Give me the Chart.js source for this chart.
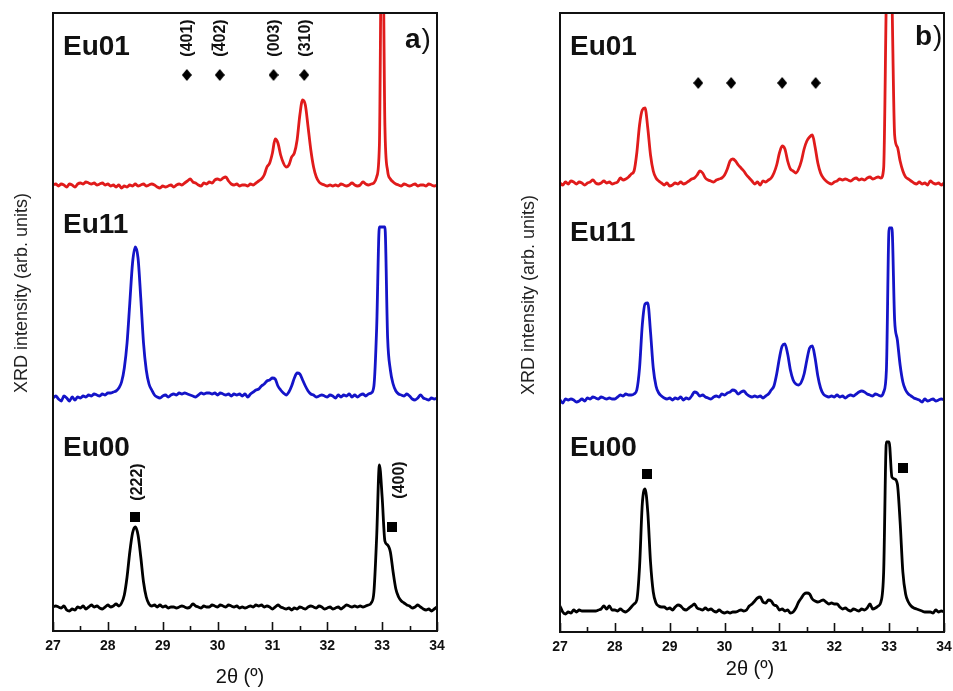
<!DOCTYPE html>
<html>
<head>
<meta charset="utf-8">
<script src="https://cdn.jsdelivr.net/npm/chart.js@4.4.1/dist/chart.umd.min.js"></script>
<style>
    body { margin: 0; background: #fff; }
    #wrap { position: relative; width: 953px; height: 691px; }
    #wrap canvas { position: absolute; top: 0; }
</style>
</head>
<body>
<div id="wrap">
    <canvas id="chartA" width="480" height="691" style="left:0"></canvas>
    <canvas id="chartB" width="473" height="691" style="left:480px"></canvas>
</div>
<script>
// scan grid, 2θ in degrees (step 0.05)
const twoTheta = [
    27.00, 27.05, 27.10, 27.15, 27.20, 27.25, 27.30, 27.35, 27.40, 27.45, 27.50, 27.55, 27.60, 27.65, 27.70, 27.75, 27.80, 27.85, 27.90, 27.95,
    28.00, 28.05, 28.10, 28.15, 28.20, 28.25, 28.30, 28.35, 28.40, 28.45, 28.50, 28.55, 28.60, 28.65, 28.70, 28.75, 28.80, 28.85, 28.90, 28.95,
    29.00, 29.05, 29.10, 29.15, 29.20, 29.25, 29.30, 29.35, 29.40, 29.45, 29.50, 29.55, 29.60, 29.65, 29.70, 29.75, 29.80, 29.85, 29.90, 29.95,
    30.00, 30.05, 30.10, 30.15, 30.20, 30.25, 30.30, 30.35, 30.40, 30.45, 30.50, 30.55, 30.60, 30.65, 30.70, 30.75, 30.80, 30.85, 30.90, 30.95,
    31.00, 31.05, 31.10, 31.15, 31.20, 31.25, 31.30, 31.35, 31.40, 31.45, 31.50, 31.55, 31.60, 31.65, 31.70, 31.75, 31.80, 31.85, 31.90, 31.95,
    32.00, 32.05, 32.10, 32.15, 32.20, 32.25, 32.30, 32.35, 32.40, 32.45, 32.50, 32.55, 32.60, 32.65, 32.70, 32.75, 32.80, 32.85, 32.90, 32.95,
    33.00, 33.05, 33.10, 33.15, 33.20, 33.25, 33.30, 33.35, 33.40, 33.45, 33.50, 33.55, 33.60, 33.65, 33.70, 33.75, 33.80, 33.85, 33.90, 33.95,
    34.00
];

const sampleNames = ['Eu01', 'Eu11', 'Eu00'];
const sampleColors = ['#e01b1b', '#1414c8', '#000000'];

// panel a) intensities (arb. units, above each pattern's own baseline)
const aEu01 = [
    0, 1, -1, 1, 0, -2, 1, 0, -2, 1, 2, 1, 3, 2, 1, 2, 0, 1, 2, 0,
    1, -1, 0, -2, 0, -3, -1, -2, 0, -1, 1, -1, 0, 1, -1, 0, 1, 0, -2, -3,
    -1, -2, -1, 0, -2, 0, 1, 0, 2, 4, 6, 3, 2, 0, -1, 2, 1, 3, 2, 5,
    6, 5, 7, 8, 4, 1, 0, 1, -1, 0, 0, -1, 1, 0, 2, 4, 6, 10, 18, 22,
    32, 46, 42, 30, 22, 18, 20, 28, 32, 45, 70, 85, 80, 58, 35, 18, 8, 3, 1, 0,
    -1, 0, -1, 0, -1, 1, 0, -1, 0, 2, 0, -1, 0, 3, 1, 0, 1, 2, 8, 40,
    320, 60, 14, 6, 3, 1, 0, -1, 1, 0, -1, 0, 1, -1, 0, 0, -1, 1, 0, -1,
    0
];
const aEu11 = [
    0, 2, -1, -3, 2, 0, -3, 1, -2, 1, 0, 2, 1, 3, 2, 4, 3, 2, 4, 3,
    5, 5, 6, 7, 10, 16, 30, 55, 95, 135, 151, 140, 100, 55, 28, 14, 8, 3, 1, 0,
    2, 3, 1, 3, 4, 3, 5, 4, 5, 4, 3, 2, 1, 3, 5, 4, 5, 5, 4, 5,
    3, 5, 4, 3, 4, 2, 4, 3, 4, 2, 4, 1, 4, 6, 8, 9, 12, 14, 17, 18,
    20, 19, 12, 8, 5, 3, 6, 12, 20, 25, 24, 18, 12, 7, 4, 3, 1, 2, 3, 2,
    1, 3, 2, 0, 3, 1, 3, 2, 4, 1, 3, 1, 3, 4, 2, 4, 5, 12, 70, 171,
    171, 171, 60, 28, 14, 7, 4, 3, 2, 4, 2, -1, -2, 0, 3, 0, -1, -2, 0, -1,
    0
];
const aEu00 = [
    0, 1, 0, -1, 1, -3, -4, -2, -3, 0, -1, 1, -2, 0, 2, 0, 1, -1, -2, 0,
    2, 0, 1, 3, 1, 4, 12, 30, 55, 74, 80, 72, 50, 25, 10, 3, 1, 2, 0, 2,
    0, 1, -1, 0, 0, -1, 0, 1, 0, -1, 0, 3, 1, 0, -1, 1, 0, 0, 2, 1,
    0, 2, 1, 0, 2, 1, 0, 1, -1, 0, -1, 0, 1, 0, 2, 1, 2, 0, 1, 0,
    -2, 0, 2, 0, -1, -2, -1, -3, -1, -2, 0, -1, -2, 0, 1, 0, -1, 1, 0, -2,
    -1, 0, -2, -1, 0, -2, 0, 2, 1, 0, 1, 0, 1, 0, 1, 2, 4, 15, 70, 142,
    110, 66, 62, 55, 35, 18, 10, 6, 4, 2, 1, -1, 0, 2, 0, -2, -3, -2, -4, -2,
    0
];
const offsetsA = [446, 233, 24];

// panel b)
const bEu01 = [
    0, -2, 1, -1, 2, 1, -1, 1, 0, -2, 0, 1, 3, 0, -1, 0, 2, 0, 1, -1,
    0, 1, 5, 3, 4, 6, 9, 12, 30, 58, 73, 75, 55, 28, 12, 5, 2, 0, -2, 0,
    -3, -2, 0, -1, 1, -1, 0, 2, 4, 5, 8, 12, 10, 5, 3, 2, 1, 3, 4, 5,
    8, 14, 22, 24, 22, 18, 15, 12, 8, 5, 2, -1, 1, -2, 2, 1, 3, 5, 10, 18,
    30, 37, 34, 22, 14, 12, 10, 14, 22, 34, 42, 46, 48, 36, 20, 10, 5, 2, 0, -1,
    1, 2, 4, 3, 4, 3, 2, 4, 5, 3, 4, 3, 5, 6, 4, 5, 6, 5, 15, 190,
    300, 190, 48, 36, 22, 12, 6, 4, 2, 0, -1, 1, -1, 0, -2, 2, 0, -1, 0, -2,
    0
];
const bEu11 = [
    0, -3, 1, 0, 1, 0, -2, -1, 1, -1, 2, 1, 3, 2, 1, 3, 2, 1, 2, 1,
    1, 3, 5, 4, 6, 5, 5, 6, 10, 32, 75, 96, 97, 68, 32, 14, 7, 4, 2, 1,
    2, 0, 2, 1, 3, 0, 2, 1, 4, 8, 7, 4, 5, 3, 2, 1, 3, 4, 3, 6,
    5, 7, 8, 10, 9, 6, 8, 9, 6, 4, 3, 4, 3, 4, 2, 4, 6, 10, 14, 26,
    42, 54, 56, 46, 30, 20, 16, 15, 18, 26, 40, 52, 54, 42, 24, 12, 6, 4, 3, 4,
    3, 5, 3, 4, 2, 4, 5, 4, 6, 8, 9, 8, 6, 5, 4, 6, 5, 4, 8, 30,
    172, 172, 80, 60, 35, 18, 10, 6, 4, 2, 1, 0, -2, 1, -1, 0, 1, -1, 0, 1,
    0
];
const bEu00 = [
    6, 0, -2, 0, -1, 2, 0, 2, 1, 1, 1, 1, 1, 1, 2, 3, 6, 3, 6, 2,
    2, 1, 3, 1, 0, 2, 5, 8, 12, 45, 108, 123, 100, 50, 20, 9, 6, 5, 5, 3,
    4, 2, 5, 7, 6, 3, 2, 4, 6, 8, 4, 3, 2, 4, 2, 3, 1, 0, 2, 0,
    -1, 0, -1, 0, 0, 1, 2, 1, 2, 6, 8, 11, 14, 15, 10, 9, 12, 11, 7, 6,
    2, 3, 1, 2, -1, 0, 4, 10, 14, 18, 19, 18, 13, 11, 10, 11, 12, 10, 8, 9,
    8, 8, 5, 3, 4, 2, 1, 3, 2, 1, 3, 2, 4, 8, 3, 4, 6, 10, 40, 170,
    170, 135, 133, 128, 90, 40, 18, 10, 6, 4, 3, 2, 1, 0, 0, 0, -1, 2, 0, 1,
    0
];
const offsetsB = [449, 232, 20];

// reflection markers
const diamondsA = [29.44, 30.04, 31.02, 31.58];
const diamondLevelA = 556;
const squaresA = [28.49, 33.18];
const squareLevelsA = [114, 104];
const diamondsB = [29.52, 30.12, 31.05, 31.66];
const diamondLevelB = 549;
const squaresB = [28.58, 33.25];
const squareLevelsB = [158, 164];

const diamondHkl = ['(401)', '(402)', '(003)', '(310)'];
const squareHkl = ['(222)', '(400)'];
const xTickLabels = ['27', '28', '29', '30', '31', '32', '33', '34'];

function markerImage(kind) {
    const c = document.createElement('canvas');
    const g = c.getContext('2d');
    g.fillStyle = '#000';
    if (kind === 'diamond') {
        c.width = 10; c.height = 12;
        g.fillStyle = '#000';
        g.beginPath();
        g.moveTo(5, 0); g.lineTo(10, 6); g.lineTo(5, 12); g.lineTo(0, 6);
        g.closePath();
        g.fill();
    } else {
        c.width = 10; c.height = 10;
        g.fillRect(0, 0, 10, 10);
    }
    return c;
}
const diamondImg = markerImage('diamond');
const squareImg = markerImage('square');

const panelDecor = {
    id: 'panelDecor',
    afterDatasetsDraw(chart, args, opts) {
        const { ctx, chartArea: a, scales: { x, y } } = chart;
        ctx.save();
        ctx.strokeStyle = '#111';
        ctx.fillStyle = '#111';

        // inward ticks on the bottom axis
        ctx.lineWidth = 1.6;
        xTickLabels.forEach((t, i) => {
            const v = Number(t);
            const px = Math.round(x.getPixelForValue(v)) + 0.5;
            ctx.beginPath();
            ctx.moveTo(px, a.bottom);
            ctx.lineTo(px, a.bottom - 9);
            ctx.stroke();
            if (i < xTickLabels.length - 1) {
                const pm = Math.round(x.getPixelForValue(v + 0.5)) + 0.5;
                ctx.beginPath();
                ctx.moveTo(pm, a.bottom);
                ctx.lineTo(pm, a.bottom - 5);
                ctx.stroke();
            }
        });

        // frame
        ctx.lineWidth = 2;
        ctx.strokeRect(a.left, a.top, a.right - a.left, a.bottom - a.top);

        // tick labels
        ctx.font = 'bold 14px "Liberation Sans", Arial, sans-serif';
        ctx.textAlign = 'center';
        ctx.textBaseline = 'middle';
        xTickLabels.forEach(t => {
            ctx.fillText(t, x.getPixelForValue(Number(t)), a.bottom + 15);
        });

        // axis titles
        ctx.font = '20px "Liberation Sans", Arial, sans-serif';
        ctx.textBaseline = 'alphabetic';
        ctx.fillText('2θ (º)', (a.left + a.right) / 2 - opts.xTitleShift, opts.xTitleY);
        ctx.save();
        ctx.translate(opts.yTitleX, opts.yTitleY);
        ctx.rotate(-Math.PI / 2);
        ctx.font = '18px "Liberation Sans", Arial, sans-serif';
        ctx.textBaseline = 'middle';
        ctx.fillStyle = '#222';
        ctx.fillText('XRD intensity (arb. units)', 0, 0);
        ctx.restore();

        // sample names
        ctx.font = 'bold 28px "Liberation Sans", Arial, sans-serif';
        ctx.textAlign = 'left';
        sampleNames.forEach((n, i) => {
            ctx.fillText(n, a.left + 10, opts.nameBaselines[i]);
        });

        // panel tag
        ctx.fillText(opts.tag, opts.tagX, opts.tagY);
        const tw = ctx.measureText(opts.tag).width;
        ctx.font = '28px "Liberation Sans", Arial, sans-serif';
        ctx.fillText(')', opts.tagX + tw + 1, opts.tagY);

        // rotated Miller indices
        if (opts.showHkl) {
            ctx.font = 'bold 16px "Liberation Sans", Arial, sans-serif';
            const drawHkl = (txt, cx, cy, bar) => {
                ctx.save();
                ctx.translate(cx, cy);
                ctx.rotate(-Math.PI / 2);
                ctx.textAlign = 'center';
                ctx.textBaseline = 'middle';
                ctx.fillText(txt, 0, 0);
                if (bar) {
                    const w = ctx.measureText(txt).width;
                    const p = ctx.measureText('(').width;
                    const d = ctx.measureText('4').width;
                    ctx.lineWidth = 1.5;
                    ctx.beginPath();
                    ctx.moveTo(-w / 2 + p + 1, -8.5);
                    ctx.lineTo(-w / 2 + p + d - 1, -8.5);
                    ctx.stroke();
                }
                ctx.restore();
            };
            opts.diamonds.forEach((v, i) => {
                drawHkl(diamondHkl[i], x.getPixelForValue(v) + 1, y.getPixelForValue(opts.diamondLevel) - 37, i === 1);
            });
            opts.squares.forEach((v, i) => {
                const sh = opts.squareHklShift[i];
                drawHkl(squareHkl[i], x.getPixelForValue(v) + sh[0], y.getPixelForValue(opts.squareLevels[i]) - sh[1], false);
            });
        }
        ctx.restore();
    }
};

function buildDatasets(series, offsets, diamonds, diamondLevel, squares, squareLevels) {
    const sets = series.map((s, i) => ({
        label: sampleNames[i],
        data: twoTheta.map((t, k) => ({ x: t, y: s[k] + offsets[i] })),
        borderColor: sampleColors[i],
        borderWidth: 2.8,
        pointRadius: 0,
        cubicInterpolationMode: 'monotone',
        borderJoinStyle: 'round'
    }));
    sets.push({
        label: 'monoclinic',
        data: diamonds.map(v => ({ x: v, y: diamondLevel })),
        showLine: false,
        pointStyle: diamondImg,
        pointRadius: 5
    });
    sets.push({
        label: 'cubic',
        data: squares.map((v, i) => ({ x: v, y: squareLevels[i] })),
        showLine: false,
        pointStyle: squareImg,
        pointRadius: 5
    });
    return sets;
}

function makeChart(id, datasets, pad, yMax, decor) {
    return new Chart(document.getElementById(id), {
        type: 'line',
        data: { datasets: datasets },
        options: {
            responsive: false,
            animation: false,
            events: [],
            layout: { padding: pad },
            plugins: {
                legend: { display: false },
                tooltip: { enabled: false },
                panelDecor: decor
            },
            scales: {
                x: { type: 'linear', min: 27, max: 34, display: false },
                y: { min: 0, max: yMax, display: false }
            }
        },
        plugins: [panelDecor]
    });
}

makeChart('chartA',
    buildDatasets([aEu01, aEu11, aEu00], offsetsA, diamondsA, diamondLevelA, squaresA, squareLevelsA),
    { left: 53, right: 43, top: 13, bottom: 60 }, 618,
    {
        tag: 'a', tagX: 405, tagY: 48,
        nameBaselines: [55, 233, 456],
        xTitleY: 683, xTitleShift: 5,
        yTitleX: 22, yTitleY: 293,
        showHkl: true,
        diamonds: diamondsA, diamondLevel: diamondLevelA,
        squares: squaresA, squareLevels: squareLevelsA,
        squareHklShift: [[3, 35], [8, 47]]
    });

makeChart('chartB',
    buildDatasets([bEu01, bEu11, bEu00], offsetsB, diamondsB, diamondLevelB, squaresB, squareLevelsB),
    { left: 80, right: 9, top: 13, bottom: 59 }, 619,
    {
        tag: 'b', tagX: 435, tagY: 45,
        nameBaselines: [55, 241, 456],
        xTitleY: 675, xTitleShift: 2,
        yTitleX: 49, yTitleY: 295,
        showHkl: false
    });
</script>
</body>
</html>
